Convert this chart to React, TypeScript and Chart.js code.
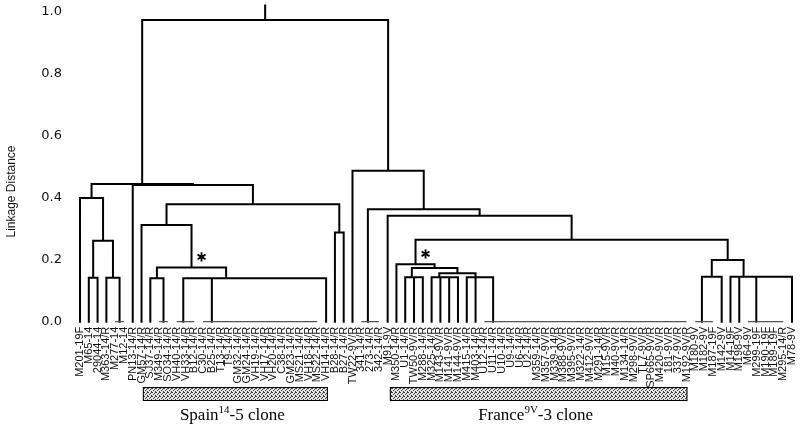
import React, { useEffect, useRef } from "react";
import { Chart, registerables } from "chart.js";

Chart.register(...registerables);

// Leaf order along the x axis
const leaves: string[] = [
  "M201-19F", "M65-14", "29044-14", "M363-14/R", "M277-14", "M12-14",
  "PN13-14/R", "GM57-14/R", "SJ37-14/R", "M349-14/R", "SO34-14/R",
  "VH40-14/R", "VH33-14/R", "B12-14/R", "C30-14/R", "B25-14/R", "T13-14/R",
  "T9-14/R", "GM32-14/R", "GM24-14/R", "VH19-14/R", "VH17-14/R", "VH20-14/R",
  "C38-14/R", "GM23-14/R", "MS21-14/R", "VH18-14/R", "MS22-14/R", "VH14-14/R",
  "B28-14/R", "B27-14/R", "TW22-9V/R", "341-14/R", "273-14/R", "342-14/R",
  "M91-9V", "M350-14/R", "U1-14/R", "TW50-9V/R", "M288-14/R", "M325-14/R",
  "M143-9V/R", "M141-9V/R", "M144-9V/R", "M415-14/R", "M403-14/R",
  "U12-14/R", "U11-14/R", "U10-14/R", "U9-14/R", "U6-14/R", "U2-14/R",
  "M359-14/R", "M357-9V/R", "M339-14/R", "M388-9V/R", "M395-9V/R",
  "M322-14/R", "M412-9V/R", "M291-14/R", "M15-9V/R", "M40-9V/R",
  "M134-14/R", "M298-9V/R", "TL7-9V/R", "SP665-9V/R", "M420-9V/R",
  "181-9V/R", "337-9V/R", "M192-9V/R", "M180-9V", "M182-9V", "M187-19F",
  "M142-9V", "M14-19F", "M198-9V", "M64-9V", "M299-19F", "M190-19F",
  "M189-19F", "M295-14/R", "M78-9V",
];

// Groups of isolates with linkage distance 0
const zeroGroups: [string, string[]][] = [
  ["z1", ["M277-14", "M12-14"]],
  ["z2", ["M349-14/R", "SO34-14/R"]],
  ["z3", ["VH40-14/R", "VH33-14/R", "B12-14/R"]],
  ["z4", ["C30-14/R", "B25-14/R", "T13-14/R", "T9-14/R", "GM32-14/R", "GM24-14/R",
    "VH19-14/R", "VH17-14/R", "VH20-14/R", "C38-14/R", "GM23-14/R", "MS21-14/R",
    "VH18-14/R", "MS22-14/R"]],
  ["z5", ["341-14/R", "273-14/R", "342-14/R"]],
  ["z6", ["U12-14/R", "U11-14/R", "U10-14/R", "U9-14/R", "U6-14/R", "U2-14/R",
    "M359-14/R", "M357-9V/R", "M339-14/R", "M388-9V/R", "M395-9V/R", "M322-14/R",
    "M412-9V/R", "M291-14/R", "M15-9V/R", "M40-9V/R", "M134-14/R", "M298-9V/R",
    "TL7-9V/R", "SP665-9V/R", "M420-9V/R", "181-9V/R", "337-9V/R", "M192-9V/R"]],
  ["z7", ["M180-9V", "M182-9V", "M187-19F"]],
  ["z8", ["M64-9V", "M299-19F", "M190-19F", "M189-19F", "M295-14/R"]],
];

// Merges: [id, left child, right child, linkage distance]
const merges: [string, string, string, number][] = [
  ["L1", "M65-14", "29044-14", 0.142],
  ["L2", "M363-14/R", "z1", 0.142],
  ["L3", "L1", "L2", 0.261],
  ["L4", "M201-19F", "L3", 0.399],
  ["S1", "SJ37-14/R", "z2", 0.140],
  ["S2", "z4", "VH14-14/R", 0.140],
  ["S3", "z3", "S2", 0.140],
  ["S4", "S1", "S3", 0.175],
  ["S5", "GM57-14/R", "S4", 0.312],
  ["S6", "B28-14/R", "B27-14/R", 0.288],
  ["S7", "S5", "S6", 0.379],
  ["S8", "PN13-14/R", "S7", 0.441],
  ["LEFT", "L4", "S8", 0.444],
  ["F1", "TW50-9V/R", "M288-14/R", 0.143],
  ["F2", "U1-14/R", "F1", 0.143],
  ["F3", "M141-9V/R", "M144-9V/R", 0.143],
  ["F4", "M143-9V/R", "F3", 0.143],
  ["F5", "M325-14/R", "F4", 0.143],
  ["F6", "M403-14/R", "z6", 0.143],
  ["F7", "M415-14/R", "F6", 0.143],
  ["F8", "F5", "F7", 0.156],
  ["F9", "F2", "F8", 0.173],
  ["F10", "M350-14/R", "F9", 0.185],
  ["G1", "z7", "M142-9V", 0.145],
  ["G2", "z8", "M78-9V", 0.145],
  ["G3", "M198-9V", "G2", 0.145],
  ["G4", "M14-19F", "G3", 0.145],
  ["G5", "G1", "G4", 0.199],
  ["R1", "F10", "G5", 0.264],
  ["R2", "M91-9V", "R1", 0.342],
  ["R3", "z5", "R2", 0.363],
  ["R4", "TW22-9V/R", "R3", 0.487],
  ["ROOT", "LEFT", "R4", 0.973],
];

const rootStubTop = 1.02;
const yTicks = [0, 0.2, 0.4, 0.6, 0.8, 1.0];
const asteriskNodes = ["S4", "F10"];
// clone bars: [name, superscript, suffix, from leaf position, to leaf position]
const cloneBars: [string, string, string, number, number][] = [
  ["Spain", "14", "-5 clone", 7.15, 28.2],
  ["France", "9V", "-3 clone", 35.25, 69.1],
];

type Pt = { x: number; y: number | null };

function buildTree() {
  const nodes: Record<string, { x: number; h: number }> = {};
  leaves.forEach((n, i) => (nodes[n] = { x: i, h: 0 }));
  const tree: Pt[] = [];
  const zero: Pt[] = [];
  const add = (id: string, a: string, b: string, h: number) => {
    const A = nodes[a];
    const B = nodes[b];
    const t = h === 0 ? zero : tree;
    t.push({ x: A.x, y: A.h }, { x: A.x, y: h }, { x: B.x, y: h }, { x: B.x, y: B.h }, { x: B.x, y: null });
    nodes[id] = { x: (A.x + B.x) / 2, h };
  };
  zeroGroups.forEach(([id, members]) => {
    let cur = members[members.length - 1];
    for (let k = members.length - 2; k >= 0; k--) {
      const nid = k === 0 ? id : `${id}_${k}`;
      add(nid, members[k], cur, 0);
      cur = nid;
    }
  });
  merges.forEach(([id, a, b, h]) => add(id, a, b, h));
  const root = nodes["ROOT"];
  tree.push({ x: root.x, y: root.h }, { x: root.x, y: rootStubTop });
  return { nodes, tree, zero };
}

function makePattern(ctx: CanvasRenderingContext2D) {
  const c = document.createElement("canvas");
  c.width = 4;
  c.height = 4;
  const p = c.getContext("2d")!;
  p.fillStyle = "#e6e6e6";
  p.fillRect(0, 0, 4, 4);
  p.fillStyle = "#3a3a3a";
  [[0, 0], [2, 1], [1, 2], [3, 3], [3, 0]].forEach(([x, y]) => p.fillRect(x, y, 1, 1));
  return ctx.createPattern(c, "repeat");
}

export default function App() {
  const ref = useRef<HTMLCanvasElement>(null);
  useEffect(() => {
    const canvas = ref.current!;
    const { nodes, tree, zero } = buildTree();
    const overlay = {
      id: "overlay",
      afterDraw(chart: any) {
        const ctx: CanvasRenderingContext2D = chart.ctx;
        const xs = chart.scales.x;
        const ys = chart.scales.y;
        ctx.save();
        // y title
        ctx.save();
        ctx.translate(11.7, 191.5);
        ctx.rotate(-Math.PI / 2);
        ctx.fillStyle = "#111";
        ctx.font = "12px 'Liberation Sans', Arial, sans-serif";
        ctx.textAlign = "center";
        ctx.textBaseline = "middle";
        ctx.fillText("Linkage Distance", 0, 0);
        ctx.restore();
        // asterisks (6-pointed)
        ctx.strokeStyle = "#000";
        ctx.lineWidth = 1.8;
        ctx.lineCap = "butt";
        asteriskNodes.forEach((id) => {
          const n = nodes[id];
          const cx = xs.getPixelForValue(n.x) + 10;
          const cy = ys.getPixelForValue(n.h) - 10.5;
          const r = 4.6;
          ctx.beginPath();
          for (let k = 0; k < 3; k++) {
            const ang = Math.PI / 2 + (k * Math.PI) / 3;
            ctx.moveTo(cx - r * Math.cos(ang), cy - r * Math.sin(ang));
            ctx.lineTo(cx + r * Math.cos(ang), cy + r * Math.sin(ang));
          }
          ctx.stroke();
        });
        // clone bars
        const pat = makePattern(ctx);
        cloneBars.forEach(([name, sup, suffix, a, b]) => {
          const x1 = xs.getPixelForValue(a);
          const x2 = xs.getPixelForValue(b);
          ctx.fillStyle = pat || "#aaa";
          ctx.fillRect(x1, 387, x2 - x1, 13.5);
          ctx.strokeStyle = "#000";
          ctx.lineWidth = 1;
          ctx.strokeRect(x1 + 0.5, 387.5, x2 - x1 - 1, 13);
          const main = "17px 'Liberation Serif', 'Times New Roman', serif";
          const small = "11px 'Liberation Serif', 'Times New Roman', serif";
          ctx.font = main;
          const w1 = ctx.measureText(name).width;
          const w3 = ctx.measureText(suffix).width;
          ctx.font = small;
          const w2 = ctx.measureText(sup).width;
          const total = w1 + w2 + w3;
          let sx = (x1 + x2) / 2 - total / 2 - 3;
          const base = 420;
          ctx.fillStyle = "#000";
          ctx.textAlign = "left";
          ctx.textBaseline = "alphabetic";
          ctx.font = main;
          ctx.fillText(name, sx, base);
          sx += w1;
          ctx.font = small;
          ctx.fillText(sup, sx, base - 7);
          sx += w2;
          ctx.font = main;
          ctx.fillText(suffix, sx, base);
        });
        ctx.restore();
      },
    };
    const chart = new Chart(canvas, {
      type: "line",
      data: {
        datasets: [
          {
            data: zero as any,
            borderColor: "#555",
            borderWidth: 1.3,
            pointRadius: 0,
            tension: 0,
            clip: false as any,
            spanGaps: false,
          },
          {
            data: tree as any,
            borderColor: "#000",
            borderWidth: 2,
            pointRadius: 0,
            tension: 0,
            clip: false as any,
            spanGaps: false,
            borderCapStyle: "square",
            borderJoinStyle: "miter",
          },
        ],
      },
      options: {
        animation: false,
        responsive: false,
        maintainAspectRatio: false,
        layout: { padding: { top: 5.5, right: 3.6, left: 0, bottom: 0 } },
        plugins: { legend: { display: false }, tooltip: { enabled: false } },
        scales: {
          x: {
            type: "linear",
            min: -0.5,
            max: 81.5,
            bounds: "data",
            grid: { display: false, drawTicks: false },
            border: { display: false },
            afterBuildTicks: (s: any) => {
              s.ticks = leaves.map((_, i) => ({ value: i }));
            },
            afterFit: (s: any) => {
              s.height = 103.3;
              s.paddingLeft = 0;
              s.paddingRight = 0;
            },
            ticks: {
              autoSkip: false,
              minRotation: 90,
              maxRotation: 90,
              padding: 5,
              color: "#111",
              font: { family: "'Liberation Sans', Arial, sans-serif", size: 11 },
              callback: (v: any) => leaves[Math.round(Number(v))] ?? "",
            },
          },
          y: {
            type: "linear",
            min: 0,
            max: 1.02,
            bounds: "data",
            grid: { display: false, drawTicks: false },
            border: { display: false },
            afterBuildTicks: (s: any) => {
              s.ticks = yTicks.map((v) => ({ value: v }));
            },
            afterFit: (s: any) => {
              s.width = 75.6;
              s.paddingTop = 0;
              s.paddingBottom = 0;
            },
            ticks: {
              padding: 13.6,
              color: "#111",
              font: { family: "'DejaVu Sans', sans-serif", size: 13 },
              callback: (v: any) => Number(v).toFixed(1),
            },
          },
        },
      } as any,
      plugins: [overlay],
    });
    return () => chart.destroy();
  }, []);
  return (
    <div style={{ position: "fixed", left: 0, top: 0, width: 800, height: 425, background: "#fff" }}>
      <canvas ref={ref} width={800} height={425} style={{ display: "block", width: 800, height: 425 }} />
    </div>
  );
}
